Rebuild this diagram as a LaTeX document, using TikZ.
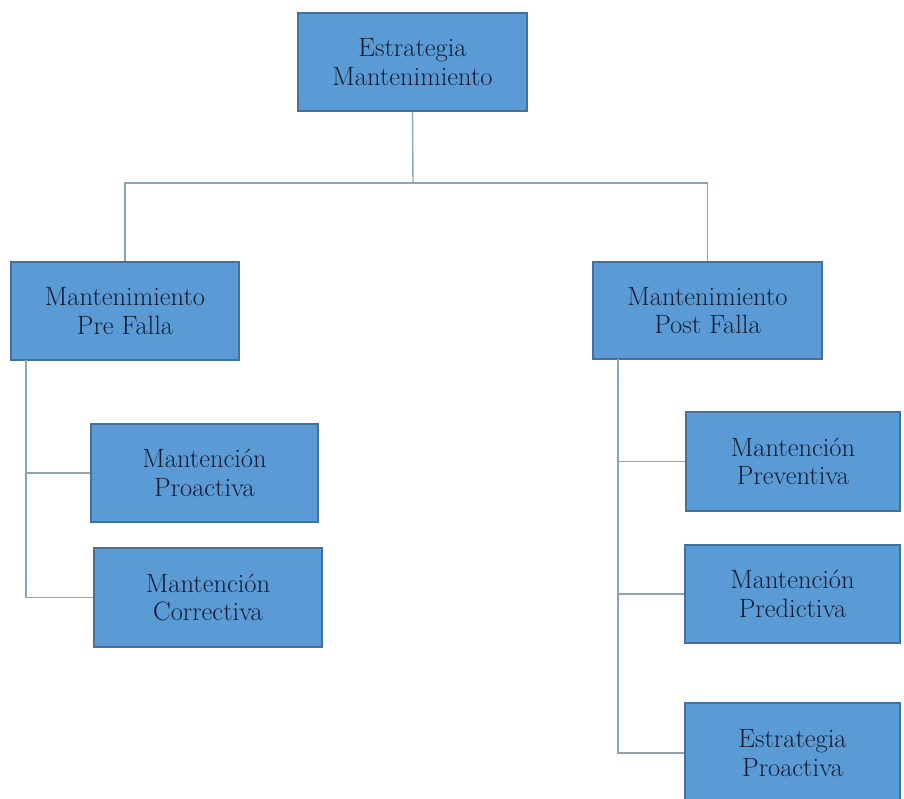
\documentclass[tikz,border=0pt]{standalone}
\definecolor{boxfill}{HTML}{5B9BD5}
\definecolor{boxedge}{HTML}{41719C}
\definecolor{txtc}{HTML}{121C33}
\definecolor{linec}{HTML}{8CA3B9}
\tikzset{
  box/.style={rectangle, draw=boxedge, fill=boxfill, line width=1.2pt,
    text=txtc, align=center, inner sep=0pt,
    font=\fontsize{26.5}{28.5}\selectfont},
  link/.style={draw=linec, line width=1.4pt}
}
\begin{document}
\begin{tikzpicture}[x=1pt,y=-1pt]
  \clip (0,0) rectangle (904,798);
  \fill[white] (0,0) rectangle (904,798);

  % root
  \node[box, minimum width=229pt, minimum height=98pt] (root) at (412.5,62) {Estrategia\\Mantenimiento};

  % second level
  \node[box, minimum width=228pt, minimum height=98pt] (pre) at (125,311) {Mantenimiento\\Pre Falla};
  \node[box, minimum width=229pt, minimum height=97pt] (post) at (707.5,310.5) {Mantenimiento\\Post Falla};

  % pre-failure branch
  \node[box, minimum width=227pt, minimum height=98pt] (proA) at (204.5,473) {Mantención\\Proactiva};
  \node[box, minimum width=228pt, minimum height=99pt] (corr) at (208,597.5) {Mantención\\Correctiva};

  % post-failure branch
  \node[box, minimum width=214pt, minimum height=99pt] (prev) at (793,461.5) {Mantención\\Preventiva};
  \node[box, minimum width=215pt, minimum height=98pt] (pred) at (792.5,594) {Mantención\\Predictiva};
  \node[box, minimum width=215pt, minimum height=100pt] (estP) at (792.5,753) {Estrategia\\Proactiva};

  % connectors
  \coordinate (bus) at (413,183);
  \coordinate (ltrunk) at (26,360);
  \coordinate (rtrunk) at (618,359);

  \draw[link] (root.south) -- (bus);
  \draw[link] (pre.north) |- (bus);
  \draw[link] (post.north) |- (bus);

  \draw[link] (ltrunk) |- (proA.west);
  \draw[link] (ltrunk) |- (corr.west);

  \draw[link] (rtrunk) |- (prev.west);
  \draw[link] (rtrunk) |- (pred.west);
  \draw[link] (rtrunk) |- (estP.west);
\end{tikzpicture}
\end{document}
